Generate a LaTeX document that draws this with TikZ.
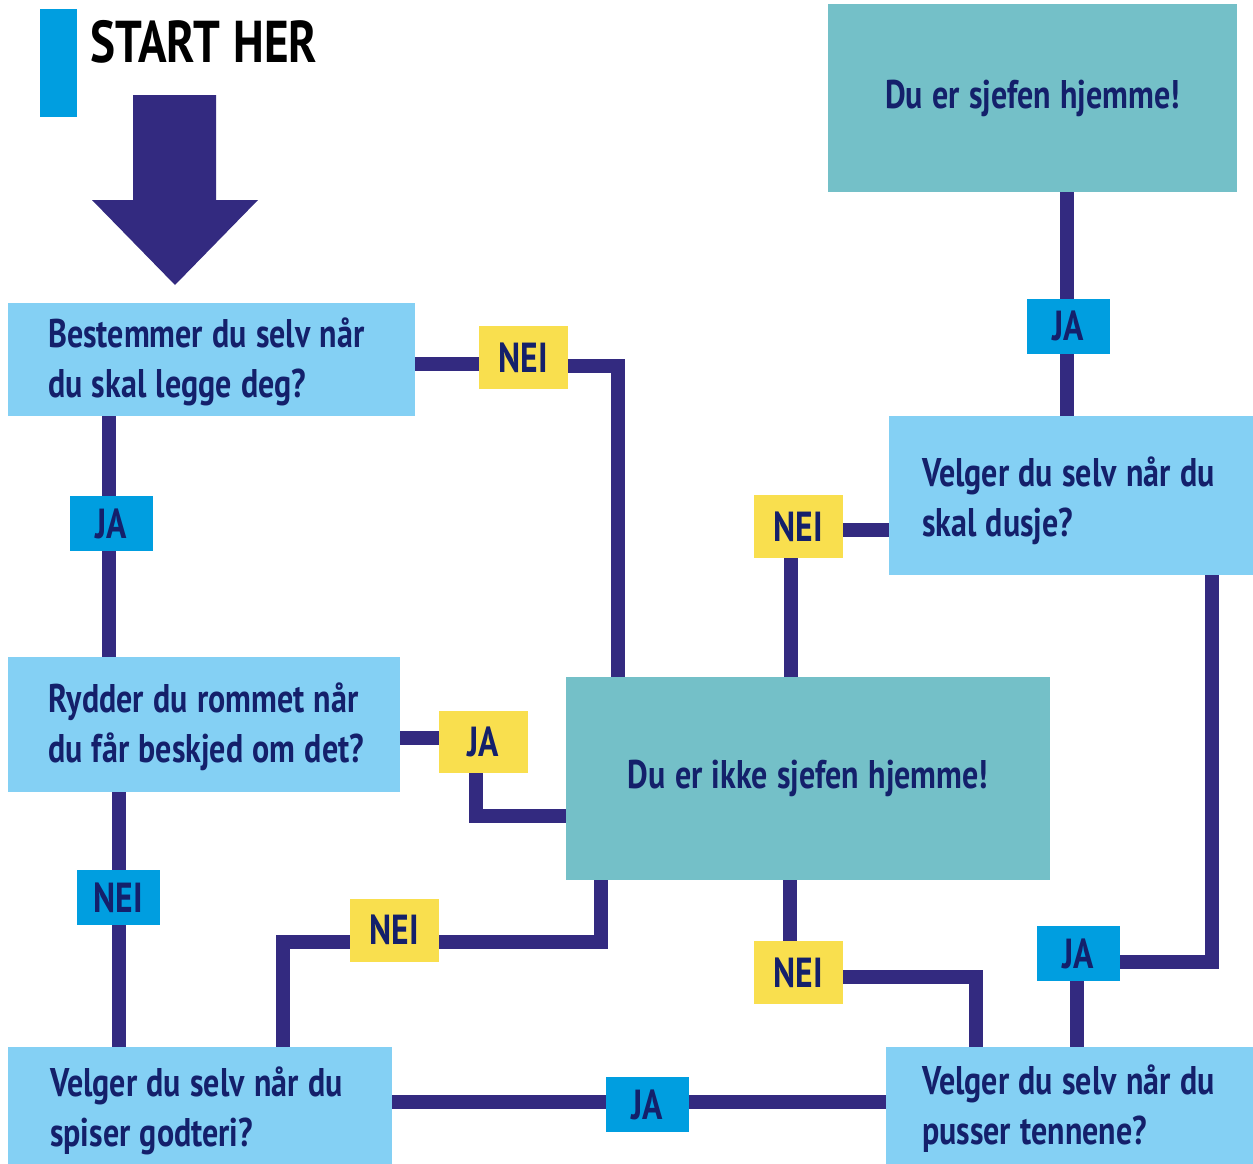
\documentclass[tikz,border=0pt]{standalone}
\usepackage{fontspec}
\setmainfont{PT Sans}[FakeStretch=0.8, WordSpace=1.15]
\usetikzlibrary{backgrounds}
\definecolor{qbox}{HTML}{84D0F4}
\definecolor{endbox}{HTML}{74C0C8}
\definecolor{ylab}{HTML}{F9DF4E}
\definecolor{blab}{HTML}{009EE0}
\definecolor{conncol}{HTML}{332A80}
\definecolor{txt}{HTML}{14206B}
\tikzset{
  qnode/.style={fill=qbox, draw=none, inner sep=0pt, anchor=north west},
  qtext/.style={inner sep=0pt, align=left, anchor=west,
     font=\fontsize{40}{50}\selectfont\bfseries, text=txt},
  endnode/.style={fill=endbox, draw=none, inner sep=0pt, align=center,
     font=\fontsize{40}{50}\selectfont\bfseries, text=txt},
  ylabel/.style={fill=ylab, draw=none, minimum width=89pt, minimum height=63pt, inner sep=0pt,
     font=\fontsize{42}{48}\selectfont\bfseries, text=txt},
  blabel/.style={fill=blab, draw=none, minimum width=83pt, minimum height=55pt, inner sep=0pt,
     font=\fontsize{42}{48}\selectfont\bfseries, text=txt},
  conn/.style={draw=conncol, line width=14pt, line join=miter, line cap=butt},
}
\begin{document}
\begin{tikzpicture}[x=1pt,y=-1pt]
\useasboundingbox (0,0) rectangle (1253,1164);

% start marker
\fill[blab] (40,9) rectangle (77,117);
\node[anchor=west, inner sep=0pt, font=\fontsize{59}{59}\selectfont\bfseries, text=black] (start) at (90,42) {START HER};
% big arrow
\fill[conncol] (133,95) -- (216,95) -- (216,200) -- (258,200) -- (175,285) -- (92,200) -- (133,200) -- cycle;

% question boxes
\node[qnode, minimum width=407pt, minimum height=113pt] (b1) at (8,303) {};
\node[qtext] (b1t) at (48,362) {Bestemmer du selv når\\du skal legge deg?};
\node[qnode, minimum width=392pt, minimum height=135pt] (b2) at (8,657) {};
\node[qtext] (b2t) at (48,727) {Rydder du rommet når\\du får beskjed om det?};
\node[qnode, minimum width=384pt, minimum height=117pt] (b3) at (8,1047) {};
\node[qtext] (b3t) at (50,1111) {Velger du selv når du\\spiser godteri?};
\node[qnode, minimum width=367pt, minimum height=117pt] (b4) at (886,1047) {};
\node[qtext] (b4t) at (922,1109) {Velger du selv når du\\pusser tennene?};
\node[qnode, minimum width=364pt, minimum height=159pt] (b5) at (889,416) {};
\node[qtext] (b5t) at (922,501) {Velger du selv når du\\skal dusje?};

% end boxes
\node[endnode, minimum width=484pt, minimum height=203pt] (t1) at (808,778.5) {Du er ikke sjefen hjemme!};
\node[endnode, minimum width=409pt, minimum height=188pt] (t2) at (1032.5,98) {Du er sjefen hjemme!};

% labels
\node[ylabel] (n1) at (523.5,357.5) {NEI};
\node[blabel] (j1) at (111.5,523.5) {JA};
\node[ylabel, minimum height=62pt] (y1) at (483.5,742) {JA};
\node[blabel] (n2) at (118.5,897.5) {NEI};
\node[ylabel] (n3) at (394.5,930) {NEI};
\node[blabel] (j2) at (647.5,1104.5) {JA};
\node[ylabel] (n4) at (798.5,972.5) {NEI};
\node[blabel] (j3) at (1078.5,953.5) {JA};
\node[ylabel] (n5) at (798.5,526.5) {NEI};
\node[blabel] (j4) at (1068.5,326) {JA};

\coordinate (c1) at (618,677);
\coordinate (c2) at (566,816);
\coordinate (c3) at (283,1047);
\coordinate (c4) at (601,880);
\coordinate (c5) at (976,1047);
\coordinate (c6) at (1212,575);

\begin{scope}[on background layer]
\draw[conn] (b1.east |- 0,364) -- (n1.west |- 0,364);
\draw[conn] (n1.east |- 0,366) -| (c1);
\draw[conn] (b1.south -| 109,0) -- (b2.north -| 109,0);
\draw[conn] (b2.east |- 0,738) -- (y1.west |- 0,738);
\draw[conn] (y1.south -| 476,0) |- (c2);
\draw[conn] (b2.south -| n2) -- (b3.north -| n2);
\draw[conn] (c3) |- (n3.west |- 0,942);
\draw[conn] (n3.east |- 0,942) -| (c4);
\draw[conn] (b3.east |- 0,1102) -- (b4.west |- 0,1102);
\draw[conn] (t1.south -| 790,0) -- (n4.north -| 790,0);
\draw[conn] (n4.east |- 0,977) -| (c5);
\draw[conn] (b4.north -| 1077,0) -- (j3.south -| 1077,0);
\draw[conn] (j3.east |- 0,962) -| (c6);
\draw[conn] (b5.west |- 0,530) -- (n5.east |- 0,530);
\draw[conn] (n5.south -| 791,0) -- (t1.north -| 791,0);
\draw[conn] (b5.north -| 1067,0) -- (t2.south -| 1067,0);
\end{scope}
\end{tikzpicture}
\end{document}
